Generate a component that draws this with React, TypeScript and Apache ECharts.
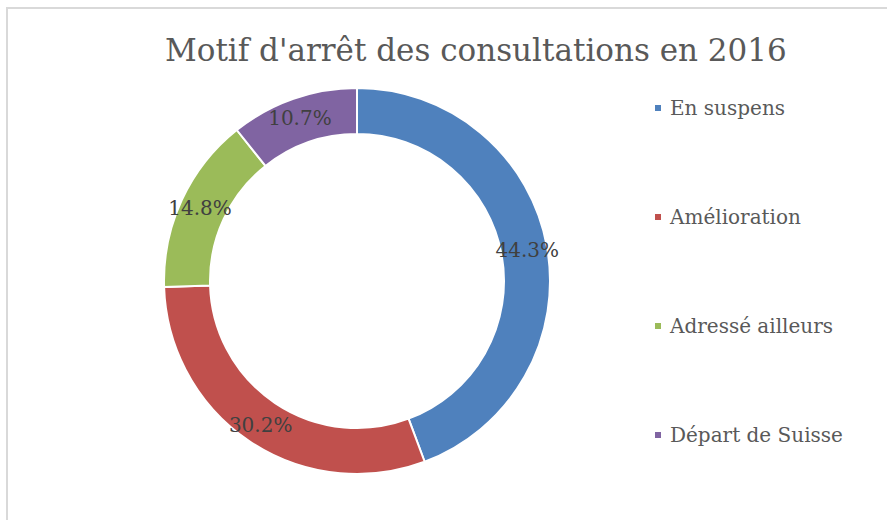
import React, { useEffect, useRef } from "react";
import * as echarts from "echarts";

const titleText = "Motif d'arrêt des consultations en 2016";
const categories = ["En suspens", "Amélioration", "Adressé ailleurs", "Départ de Suisse"];
const values = [44.3, 30.2, 14.8, 10.7];
const colors = ["#4F81BD", "#C0504D", "#9BBB59", "#8064A2"];

export default function App() {
  const ref = useRef<HTMLDivElement>(null);
  useEffect(() => {
    if (!ref.current) return;
    const chart = echarts.init(ref.current, undefined, { renderer: "svg" });
    chart.setOption({
      animation: false,
      backgroundColor: "#ffffff",
      title: {
        text: titleText,
        left: 165,
        top: 34,
        padding: 0,
        textStyle: {
          fontFamily: "DejaVu Serif",
          fontSize: 31,
          fontWeight: "normal",
          color: "#595959",
        },
      },
      graphic: [
        {
          type: "rect",
          shape: { x: 7, y: 8, width: 900, height: 600 },
          style: { fill: "none", stroke: "#D9D9D9", lineWidth: 2 },
          silent: true,
        },
      ],
      legend: {
        orient: "vertical",
        left: 653,
        top: 97,
        padding: 0,
        itemGap: 87,
        itemWidth: 8,
        itemHeight: 8,
        icon: "rect",
        data: categories,
        textStyle: {
          fontFamily: "DejaVu Serif",
          fontSize: 20,
          lineHeight: 22,
          color: "#595959",
          padding: [0, 0, 0, 3],
        },
      },
      series: [
        {
          type: "pie",
          center: [357, 281],
          radius: [147, 193],
          startAngle: 90,
          clockwise: true,
          avoidLabelOverlap: false,
          label: {
            show: true,
            position: "inside",
            formatter: (p: any) => p.value.toFixed(1) + "%",
            fontFamily: "DejaVu Serif",
            fontSize: 20,
            color: "#404040",
          },
          labelLine: { show: false },
          itemStyle: { borderColor: "#ffffff", borderWidth: 2 },
          data: categories.map((name, i) => ({
            name,
            value: values[i],
            itemStyle: { color: colors[i] },
          })),
        },
      ],
    });
    return () => chart.dispose();
  }, []);
  return (
    <div
      ref={ref}
      style={{ position: "fixed", left: 0, top: 0, width: 887, height: 520 }}
    />
  );
}
